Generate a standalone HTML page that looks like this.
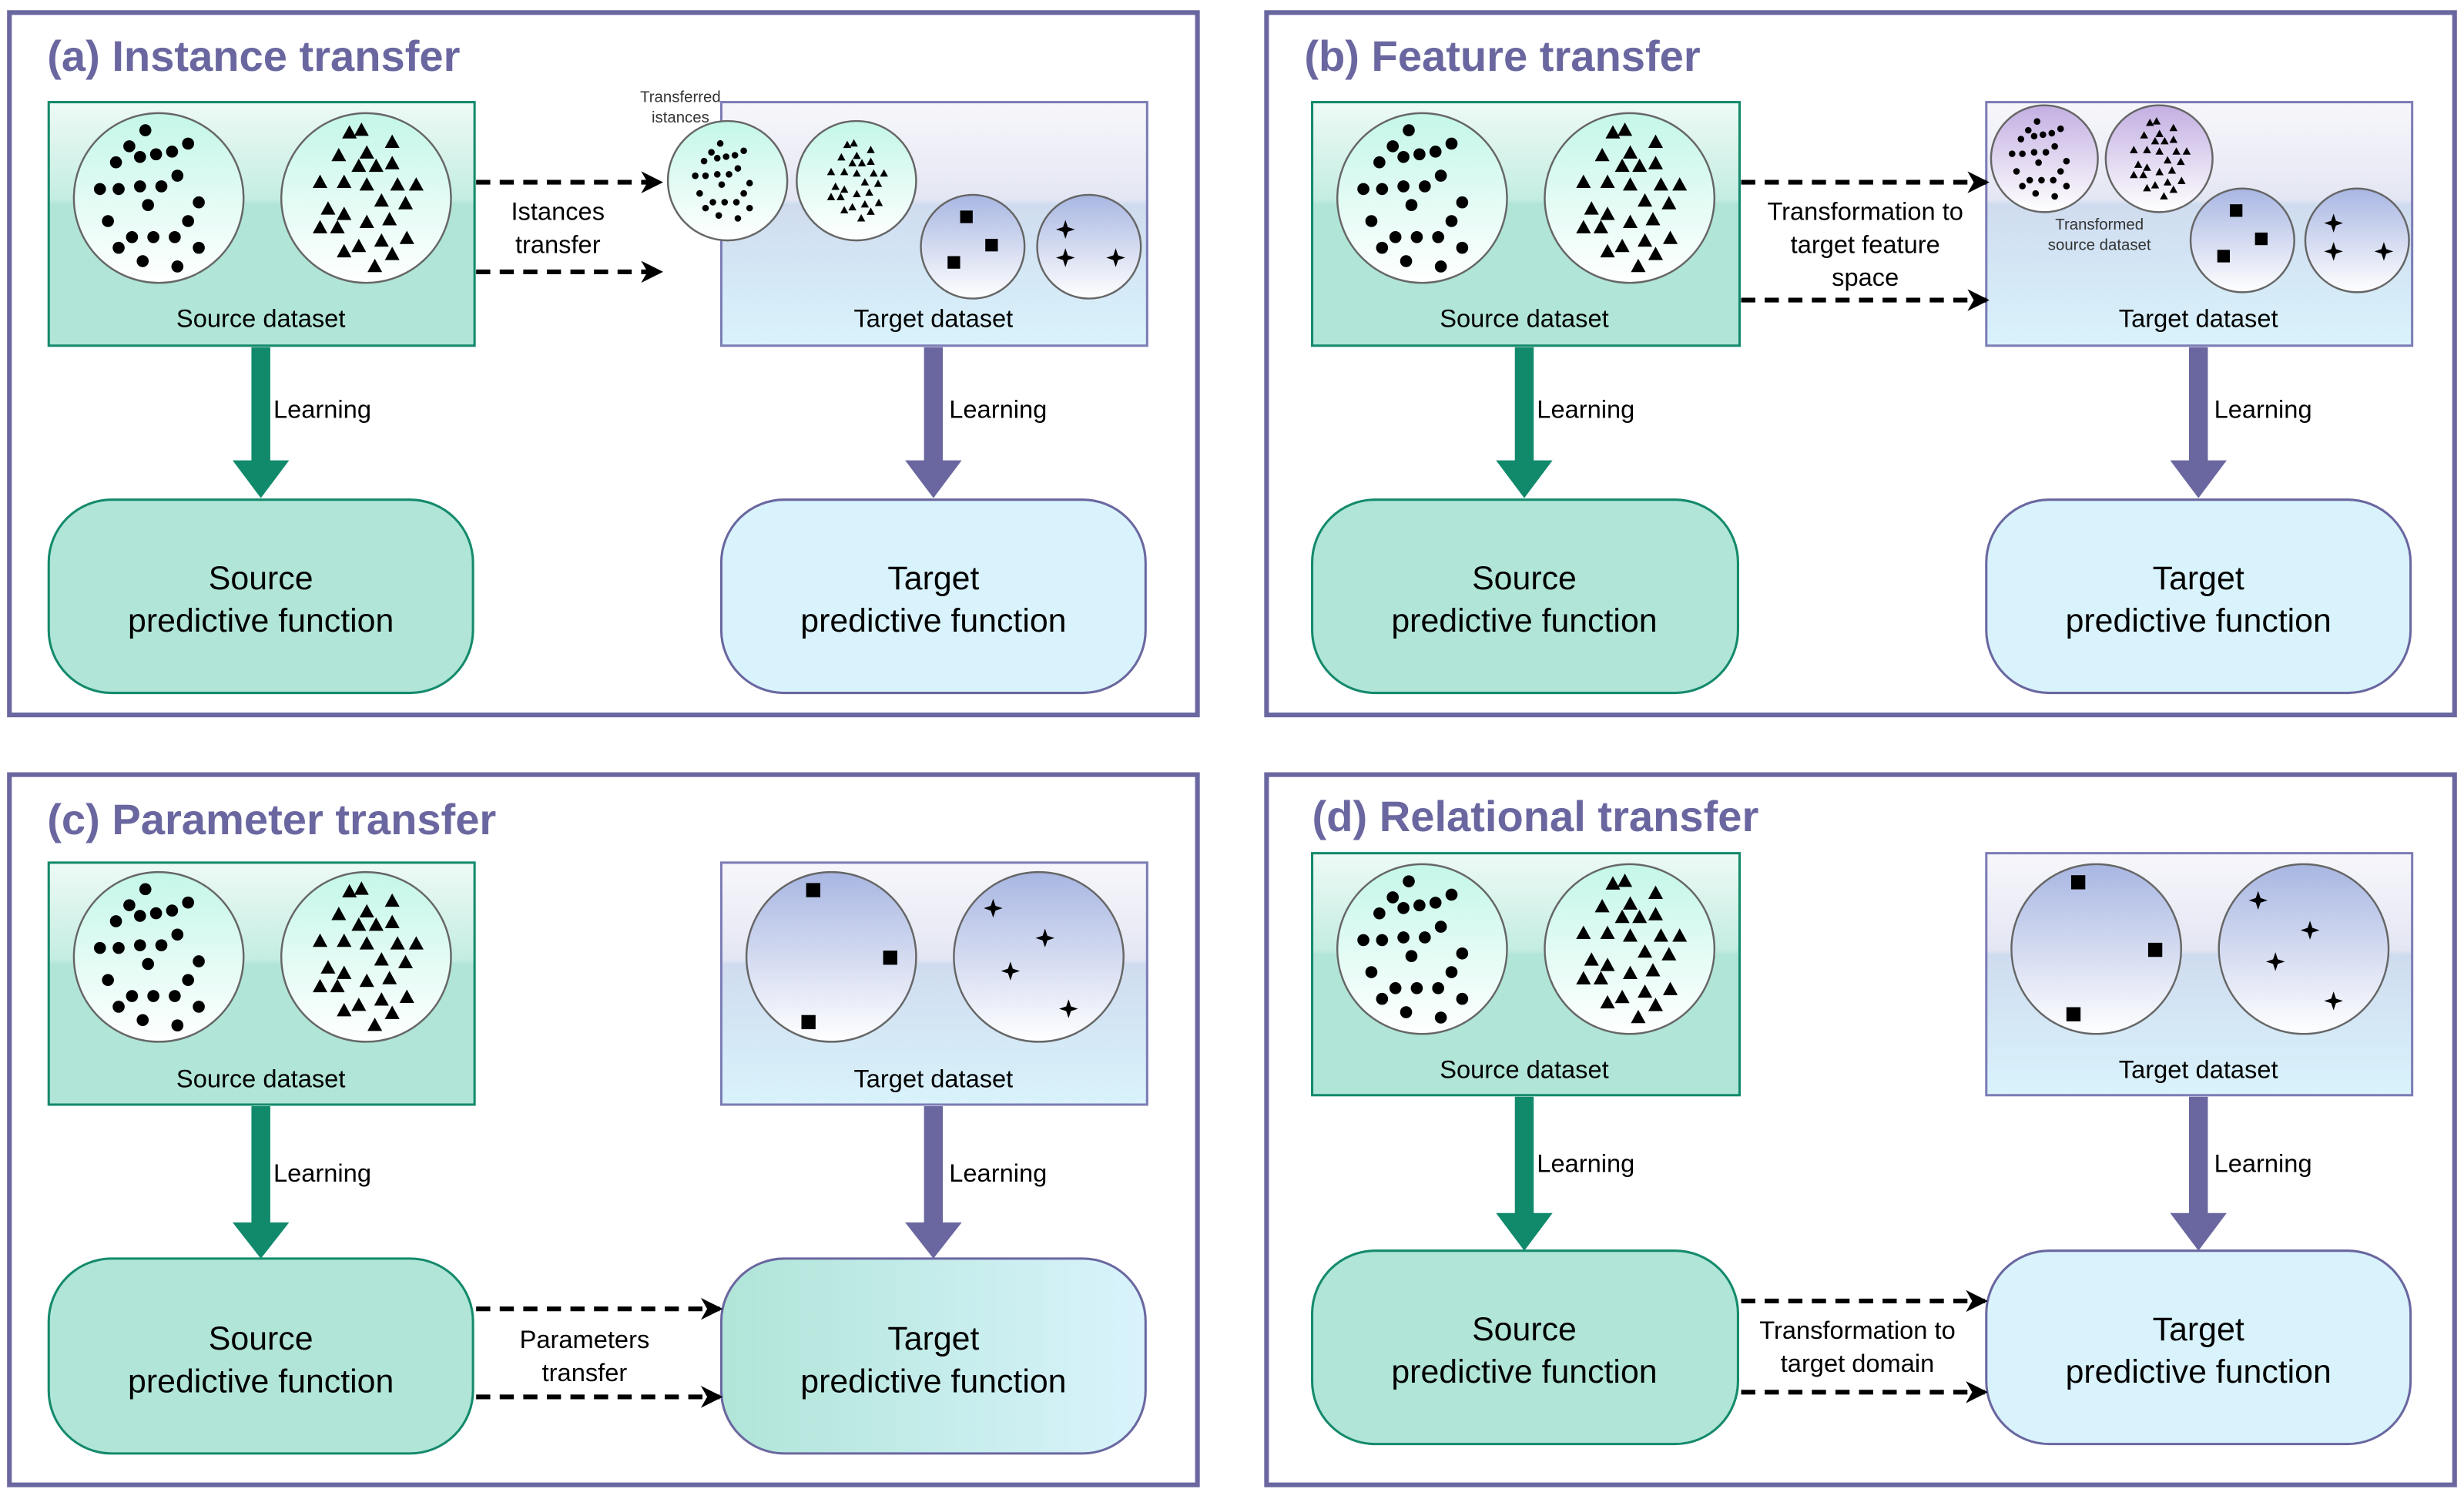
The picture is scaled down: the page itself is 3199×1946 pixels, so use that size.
<!DOCTYPE html>
<html><head><meta charset="utf-8"><style>html,body{margin:0;padding:0;background:#fff}svg{display:block}text{font-family:"Liberation Sans",sans-serif}</style></head>
<body>
<svg width="3199" height="1946" viewBox="0 0 1568 954" preserveAspectRatio="none" xmlns="http://www.w3.org/2000/svg">
<defs>
<linearGradient id="gSrc" x1="0" y1="0" x2="0" y2="1"><stop offset="0" stop-color="#eefaf6"/><stop offset="0.4" stop-color="#c4ede1"/><stop offset="0.42" stop-color="#b0e5d8"/><stop offset="1" stop-color="#b0e5d8"/></linearGradient>
<linearGradient id="gTgt" x1="0" y1="0" x2="0" y2="1"><stop offset="0" stop-color="#f7f7fb"/><stop offset="0.4" stop-color="#e4e6f3"/><stop offset="0.42" stop-color="#cfdcef"/><stop offset="1" stop-color="#d9f3fc"/></linearGradient>
<linearGradient id="gMint" x1="0" y1="0" x2="0" y2="1"><stop offset="0" stop-color="#c4f7e8"/><stop offset="1" stop-color="#ffffff"/></linearGradient>
<linearGradient id="gBlue" x1="0" y1="0" x2="0" y2="1"><stop offset="0" stop-color="#a8b6e2"/><stop offset="1" stop-color="#ffffff"/></linearGradient>
<linearGradient id="gPurp" x1="0" y1="0" x2="0" y2="1"><stop offset="0" stop-color="#c3afe2"/><stop offset="1" stop-color="#ffffff"/></linearGradient>
<linearGradient id="gPar" x1="0" y1="0" x2="1" y2="0"><stop offset="0" stop-color="#b0e5d8"/><stop offset="1" stop-color="#d9f3fc"/></linearGradient>
<g id="dots0">
<circle cx="-10" cy="-46" r="4.5"/><circle cx="-22" cy="-34" r="4.5"/><circle cx="-32" cy="-22" r="4.5"/><circle cx="-14" cy="-26" r="4.5"/><circle cx="-2" cy="-28" r="4.5"/><circle cx="10" cy="-30" r="4.5"/><circle cx="22" cy="-36" r="4.5"/><circle cx="-44" cy="-2" r="4.5"/><circle cx="-30" cy="-2" r="4.5"/><circle cx="-14" cy="-4" r="4.5"/><circle cx="2" cy="-4" r="4.5"/><circle cx="14" cy="-12" r="4.5"/><circle cx="-8" cy="10" r="4.5"/><circle cx="30" cy="8" r="4.5"/><circle cx="-38" cy="22" r="4.5"/><circle cx="22" cy="22" r="4.5"/><circle cx="-20" cy="34" r="4.5"/><circle cx="-4" cy="34" r="4.5"/><circle cx="30" cy="42" r="4.5"/><circle cx="-30" cy="42" r="4.5"/><circle cx="-12" cy="52" r="4.5"/><circle cx="14" cy="56" r="4.5"/><circle cx="12" cy="34" r="4.5"/>
</g>
<g id="tris0">
<path d="M-18,-41 l5.5,-10 l5.5,10z M-9,-43 l5.5,-10 l5.5,10z M14,-34 l5.5,-10 l5.5,10z M-5,-26 l5.5,-10 l5.5,10z M-26,-24 l5.5,-10 l5.5,10z M-11,-16 l5.5,-10 l5.5,10z M2,-16 l5.5,-10 l5.5,10z M14,-18 l5.5,-10 l5.5,10z M-40,-4 l5.5,-10 l5.5,10z M-22,-4 l5.5,-10 l5.5,10z M-5,-2 l5.5,-10 l5.5,10z M18,-2 l5.5,-10 l5.5,10z M6,10 l5.5,-10 l5.5,10z M24,12 l5.5,-10 l5.5,10z M-34,16 l5.5,-10 l5.5,10z M-22,20 l5.5,-10 l5.5,10z M-5,26 l5.5,-10 l5.5,10z M12,24 l5.5,-10 l5.5,10z M-40,30 l5.5,-10 l5.5,10z M-27,30 l5.5,-10 l5.5,10z M25,38 l5.5,-10 l5.5,10z M6,40 l5.5,-10 l5.5,10z M-11,44 l5.5,-10 l5.5,10z M-22,48 l5.5,-10 l5.5,10z M1,59 l5.5,-10 l5.5,10z M14,50 l5.5,-10 l5.5,10z M32,-2 l5.5,-10 l5.5,10z"/>
</g>
<g id="dots"><g transform="translate(0,-4) scale(0.85)"><use href="#dots0"/></g></g>
<g id="tris"><g transform="translate(0,-3) scale(0.85)"><use href="#tris0"/></g></g>
<path id="star" d="M0,-6 L1.5,-1.5 L6,0 L1.5,1.5 L0,6 L-1.5,1.5 L-6,0 L-1.5,-1.5z"/>
<marker id="ah" markerWidth="14" markerHeight="14" refX="12" refY="7" orient="auto" markerUnits="userSpaceOnUse" viewBox="0 0 14 14"><path d="M0,0 L14,7 L0,14 L4,7z" fill="#000"/></marker>
</defs>

<g fill="none" stroke="#6a67a0" stroke-width="3">
<rect x="6" y="8" width="756" height="447"/><rect x="806" y="8" width="756" height="447"/>
<rect x="6" y="493" width="756" height="452"/><rect x="806" y="493" width="756" height="452"/>
</g>
<g font-weight="bold" font-size="27.5" fill="#6a67a0">
<text x="30" y="45">(a) Instance transfer</text><text x="830" y="45">(b) Feature transfer</text>
<text x="30" y="531">(c) Parameter transfer</text><text x="835" y="529">(d) Relational transfer</text>
</g>

<!-- A -->
<rect x="31" y="65" width="271" height="155" fill="url(#gSrc)" stroke="#148a6c" stroke-width="1.5"/>
<circle cx="101" cy="126" r="54" fill="url(#gMint)" stroke="#666" stroke-width="1.2"/>
<circle cx="233" cy="126" r="54" fill="url(#gMint)" stroke="#666" stroke-width="1.2"/>
<use href="#dots" x="101" y="126"/><use href="#tris" x="233" y="126"/>
<text x="166" y="208" font-size="16" text-anchor="middle">Source dataset</text>
<rect x="459" y="65" width="271" height="155" fill="url(#gTgt)" stroke="#7c7db5" stroke-width="1.5"/>
<circle cx="463" cy="115" r="38" fill="url(#gMint)" stroke="#666" stroke-width="1.2"/>
<circle cx="545" cy="115" r="38" fill="url(#gMint)" stroke="#666" stroke-width="1.2"/>
<g transform="translate(463,115) scale(0.55)"><use href="#dots"/></g>
<g transform="translate(545,115) scale(0.55)"><use href="#tris"/></g>
<circle cx="619" cy="157" r="33" fill="url(#gBlue)" stroke="#666" stroke-width="1.2"/>
<circle cx="693" cy="157" r="33" fill="url(#gBlue)" stroke="#666" stroke-width="1.2"/>
<rect x="611" y="134" width="8" height="8"/><rect x="627" y="152" width="8" height="8"/><rect x="603" y="163" width="8" height="8"/>
<use href="#star" x="678" y="146"/><use href="#star" x="678" y="164"/><use href="#star" x="710" y="164"/>
<text x="433" y="65" font-size="10" text-anchor="middle" fill="#333">Transferred</text>
<text x="433" y="78" font-size="10" text-anchor="middle" fill="#333">istances</text>
<text x="594" y="208" font-size="16" text-anchor="middle">Target dataset</text>
<g stroke="#000" stroke-width="3" stroke-dasharray="9,6" marker-end="url(#ah)"><line x1="303" y1="116" x2="420" y2="116"/><line x1="303" y1="173" x2="420" y2="173"/></g>
<text x="355" y="140" font-size="16" text-anchor="middle">Istances</text><text x="355" y="161" font-size="16" text-anchor="middle">transfer</text>
<rect x="160" y="221" width="12" height="74" fill="#118a6b"/><path d="M148,293 L184,293 L166,317z" fill="#118a6b"/>
<text x="174" y="266" font-size="16">Learning</text>
<rect x="588" y="221" width="12" height="74" fill="#6a67a0"/><path d="M576,293 L612,293 L594,317z" fill="#6a67a0"/>
<text x="604" y="266" font-size="16">Learning</text>
<rect x="31" y="318" width="270" height="123" rx="40" fill="#b0e5d8" stroke="#148a6c" stroke-width="1.5"/>
<text x="166" y="375" font-size="21" text-anchor="middle">Source</text><text x="166" y="402" font-size="21" text-anchor="middle">predictive function</text>
<rect x="459" y="318" width="270" height="123" rx="40" fill="#d9f3fc" stroke="#6a67a0" stroke-width="1.5"/>
<text x="594" y="375" font-size="21" text-anchor="middle">Target</text><text x="594" y="402" font-size="21" text-anchor="middle">predictive function</text>

<!-- B -->
<rect x="835" y="65" width="272" height="155" fill="url(#gSrc)" stroke="#148a6c" stroke-width="1.5"/>
<circle cx="905" cy="126" r="54" fill="url(#gMint)" stroke="#666" stroke-width="1.2"/>
<circle cx="1037" cy="126" r="54" fill="url(#gMint)" stroke="#666" stroke-width="1.2"/>
<use href="#dots" x="905" y="126"/><use href="#tris" x="1037" y="126"/>
<text x="970" y="208" font-size="16" text-anchor="middle">Source dataset</text>
<rect x="1264" y="65" width="271" height="155" fill="url(#gTgt)" stroke="#7c7db5" stroke-width="1.5"/>
<circle cx="1301" cy="101" r="34" fill="url(#gPurp)" stroke="#666" stroke-width="1.2"/>
<circle cx="1374" cy="101" r="34" fill="url(#gPurp)" stroke="#666" stroke-width="1.2"/>
<g transform="translate(1301,101) scale(0.55)"><use href="#dots"/></g>
<g transform="translate(1374,101) scale(0.55)"><use href="#tris"/></g>
<text x="1336" y="146" font-size="10" text-anchor="middle" fill="#333">Transformed</text>
<text x="1336" y="159" font-size="10" text-anchor="middle" fill="#333">source dataset</text>
<circle cx="1427" cy="153" r="33" fill="url(#gBlue)" stroke="#666" stroke-width="1.2"/>
<circle cx="1500" cy="153" r="33" fill="url(#gBlue)" stroke="#666" stroke-width="1.2"/>
<rect x="1419" y="130" width="8" height="8"/><rect x="1435" y="148" width="8" height="8"/><rect x="1411" y="159" width="8" height="8"/>
<use href="#star" x="1485" y="142"/><use href="#star" x="1485" y="160"/><use href="#star" x="1517" y="160"/>
<text x="1399" y="208" font-size="16" text-anchor="middle">Target dataset</text>
<g stroke="#000" stroke-width="3" stroke-dasharray="9,6" marker-end="url(#ah)"><line x1="1108" y1="116" x2="1264" y2="116"/><line x1="1108" y1="191" x2="1264" y2="191"/></g>
<text x="1187" y="140" font-size="16" text-anchor="middle">Transformation to</text><text x="1187" y="161" font-size="16" text-anchor="middle">target feature</text><text x="1187" y="182" font-size="16" text-anchor="middle">space</text>
<rect x="964" y="221" width="12" height="74" fill="#118a6b"/><path d="M952,293 L988,293 L970,317z" fill="#118a6b"/>
<text x="978" y="266" font-size="16">Learning</text>
<rect x="1393" y="221" width="12" height="74" fill="#6a67a0"/><path d="M1381,293 L1417,293 L1399,317z" fill="#6a67a0"/>
<text x="1409" y="266" font-size="16">Learning</text>
<rect x="835" y="318" width="271" height="123" rx="40" fill="#b0e5d8" stroke="#148a6c" stroke-width="1.5"/>
<text x="970" y="375" font-size="21" text-anchor="middle">Source</text><text x="970" y="402" font-size="21" text-anchor="middle">predictive function</text>
<rect x="1264" y="318" width="270" height="123" rx="40" fill="#d9f3fc" stroke="#6a67a0" stroke-width="1.5"/>
<text x="1399" y="375" font-size="21" text-anchor="middle">Target</text><text x="1399" y="402" font-size="21" text-anchor="middle">predictive function</text>

<!-- C -->
<rect x="31" y="549" width="271" height="154" fill="url(#gSrc)" stroke="#148a6c" stroke-width="1.5"/>
<circle cx="101" cy="609" r="54" fill="url(#gMint)" stroke="#666" stroke-width="1.2"/>
<circle cx="233" cy="609" r="54" fill="url(#gMint)" stroke="#666" stroke-width="1.2"/>
<use href="#dots" x="101" y="609"/><use href="#tris" x="233" y="609"/>
<text x="166" y="692" font-size="16" text-anchor="middle">Source dataset</text>
<rect x="459" y="549" width="271" height="154" fill="url(#gTgt)" stroke="#7c7db5" stroke-width="1.5"/>
<circle cx="529" cy="609" r="54" fill="url(#gBlue)" stroke="#666" stroke-width="1.2"/>
<circle cx="661" cy="609" r="54" fill="url(#gBlue)" stroke="#666" stroke-width="1.2"/>
<rect x="513" y="562" width="9" height="9"/><rect x="562" y="605" width="9" height="9"/><rect x="510" y="646" width="9" height="9"/>
<use href="#star" x="632" y="578"/><use href="#star" x="665" y="597"/><use href="#star" x="643" y="618"/><use href="#star" x="680" y="642"/>
<text x="594" y="692" font-size="16" text-anchor="middle">Target dataset</text>
<rect x="160" y="704" width="12" height="76" fill="#118a6b"/><path d="M148,778 L184,778 L166,801z" fill="#118a6b"/>
<text x="174" y="752" font-size="16">Learning</text>
<rect x="588" y="704" width="12" height="76" fill="#6a67a0"/><path d="M576,778 L612,778 L594,801z" fill="#6a67a0"/>
<text x="604" y="752" font-size="16">Learning</text>
<rect x="31" y="801" width="270" height="124" rx="40" fill="#b0e5d8" stroke="#148a6c" stroke-width="1.5"/>
<text x="166" y="859" font-size="21" text-anchor="middle">Source</text><text x="166" y="886" font-size="21" text-anchor="middle">predictive function</text>
<rect x="459" y="801" width="270" height="124" rx="40" fill="url(#gPar)" stroke="#6a67a0" stroke-width="1.5"/>
<text x="594" y="859" font-size="21" text-anchor="middle">Target</text><text x="594" y="886" font-size="21" text-anchor="middle">predictive function</text>
<g stroke="#000" stroke-width="3" stroke-dasharray="9,6" marker-end="url(#ah)"><line x1="303" y1="833" x2="458" y2="833"/><line x1="303" y1="889" x2="458" y2="889"/></g>
<text x="372" y="858" font-size="16" text-anchor="middle">Parameters</text><text x="372" y="879" font-size="16" text-anchor="middle">transfer</text>

<!-- D -->
<rect x="835" y="543" width="272" height="154" fill="url(#gSrc)" stroke="#148a6c" stroke-width="1.5"/>
<circle cx="905" cy="604" r="54" fill="url(#gMint)" stroke="#666" stroke-width="1.2"/>
<circle cx="1037" cy="604" r="54" fill="url(#gMint)" stroke="#666" stroke-width="1.2"/>
<use href="#dots" x="905" y="604"/><use href="#tris" x="1037" y="604"/>
<text x="970" y="686" font-size="16" text-anchor="middle">Source dataset</text>
<rect x="1264" y="543" width="271" height="154" fill="url(#gTgt)" stroke="#7c7db5" stroke-width="1.5"/>
<circle cx="1334" cy="604" r="54" fill="url(#gBlue)" stroke="#666" stroke-width="1.2"/>
<circle cx="1466" cy="604" r="54" fill="url(#gBlue)" stroke="#666" stroke-width="1.2"/>
<rect x="1318" y="557" width="9" height="9"/><rect x="1367" y="600" width="9" height="9"/><rect x="1315" y="641" width="9" height="9"/>
<use href="#star" x="1437" y="573"/><use href="#star" x="1470" y="592"/><use href="#star" x="1448" y="612"/><use href="#star" x="1485" y="637"/>
<text x="1399" y="686" font-size="16" text-anchor="middle">Target dataset</text>
<rect x="964" y="698" width="12" height="76" fill="#118a6b"/><path d="M952,772 L988,772 L970,796z" fill="#118a6b"/>
<text x="978" y="746" font-size="16">Learning</text>
<rect x="1393" y="698" width="12" height="76" fill="#6a67a0"/><path d="M1381,772 L1417,772 L1399,796z" fill="#6a67a0"/>
<text x="1409" y="746" font-size="16">Learning</text>
<rect x="835" y="796" width="271" height="123" rx="40" fill="#b0e5d8" stroke="#148a6c" stroke-width="1.5"/>
<text x="970" y="853" font-size="21" text-anchor="middle">Source</text><text x="970" y="880" font-size="21" text-anchor="middle">predictive function</text>
<rect x="1264" y="796" width="270" height="123" rx="40" fill="#d9f3fc" stroke="#6a67a0" stroke-width="1.5"/>
<text x="1399" y="853" font-size="21" text-anchor="middle">Target</text><text x="1399" y="880" font-size="21" text-anchor="middle">predictive function</text>
<g stroke="#000" stroke-width="3" stroke-dasharray="9,6" marker-end="url(#ah)"><line x1="1108" y1="828" x2="1263" y2="828"/><line x1="1108" y1="886" x2="1263" y2="886"/></g>
<text x="1182" y="852" font-size="16" text-anchor="middle">Transformation to</text><text x="1182" y="873" font-size="16" text-anchor="middle">target domain</text>
</svg>
</body></html>
